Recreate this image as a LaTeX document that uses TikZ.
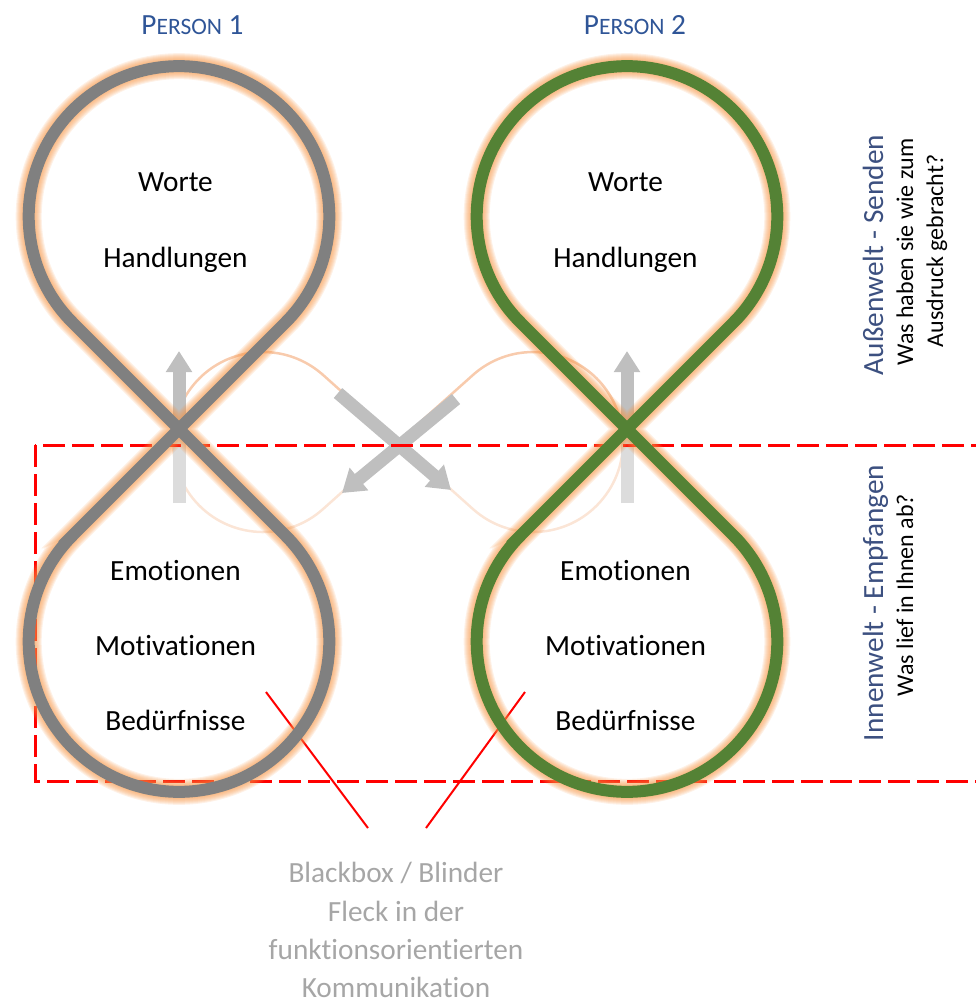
\documentclass[tikz,border=0pt]{standalone}
\usepackage{fontspec}
\setmainfont{Carlito}[Ligatures={NoCommon}]
\usetikzlibrary{arrows.meta}

\definecolor{eightgray}{RGB}{128,128,128}
\definecolor{eightgreen}{RGB}{84,130,53}
\definecolor{glowc}{RGB}{247,150,70}
\definecolor{arrowgray}{RGB}{191,191,191}
\definecolor{arrowlight}{RGB}{220,220,220}
\definecolor{loopdark}{RGB}{248,203,173}
\definecolor{looplight}{RGB}{251,229,214}
\definecolor{personblue}{RGB}{47,85,151}
\definecolor{headslate}{RGB}{60,80,128}
\definecolor{notegray}{RGB}{166,166,166}

\begin{document}
\begin{tikzpicture}[x=1pt,y=-1pt,
  % figure eight around a crossing at (0,0): two circles joined by 45 degree lines
  eightpath/.style={insert path={(-106.28,106.28) -- (106.28,-106.28)
      arc[start angle=45,end angle=-225,radius=150.3] -- (106.28,106.28)
      arc[start angle=-45,end angle=225,radius=150.3] -- cycle}},
  lbl/.style={font=\fontsize{29.3}{35}\selectfont, anchor=base, inner sep=0pt},
  person/.style={lbl, text=personblue},
  sidehead/.style={font=\fontsize{29.3}{35}\selectfont, anchor=base, inner sep=0pt, rotate=90, text=headslate},
  sidetext/.style={font=\fontsize{24}{29}\selectfont, anchor=base, inner sep=0pt, rotate=90},
  note/.style={lbl, text=notegray},
  flowup/.style={line width=13pt, draw=arrowgray, -{Triangle[width=25pt,length=21pt]}},
  flowcross/.style={line width=13pt, draw=arrowgray, -{Triangle[width=28pt,length=22pt]}},
  blind/.style={draw=red, line width=2pt},
  zone/.style={draw=red, line width=3pt, dash pattern=on 22pt off 7pt}
]
\useasboundingbox (0,0) rectangle (976,1003);

% sideways loop between both persons (upper half stronger, lower half paler)
\def\sideloop{(323,374.9) -- (473,509.1)
  arc[start angle=131.81,end angle=-131.81,radius=90] -- (323,509.1)
  arc[start angle=48.19,end angle=311.81,radius=90] -- cycle}
\begin{scope}
  \clip (0,0) rectangle (976,442);
  \draw[draw=loopdark, line width=2.5pt] \sideloop;
\end{scope}
\begin{scope}
  \clip (0,442) rectangle (976,1003);
  \draw[draw=looplight, line width=2.5pt] \sideloop;
\end{scope}

% vertical arrows at both crossings
\coordinate (v1s) at (179,503); \coordinate (v1m) at (179,437); \coordinate (v1t) at (179,351);
\coordinate (v2s) at (627,503); \coordinate (v2m) at (627,437); \coordinate (v2t) at (627,351);
\draw[line width=13pt, draw=arrowlight] (v1s) -- (v1m);
\draw[flowup] ([yshift=0.5pt]v1m) -- (v1t);
\draw[line width=13pt, draw=arrowlight] (v2s) -- (v2m);
\draw[flowup] ([yshift=0.5pt]v2m) -- (v2t);

% crossing arrows in the middle
\coordinate (xa1) at (338,393); \coordinate (xa2) at (451,490);
\coordinate (xb1) at (456,399); \coordinate (xb2) at (342,493);
\draw[flowcross] (xa1) -- (xa2);
\draw[flowcross] (xb1) -- (xb2);

% inner world zone
\coordinate (z1) at (35,445); \coordinate (z2) at (990,781);
\draw[zone] (z1) rectangle (z2);

% blind spot pointers
\coordinate (b1s) at (266,692); \coordinate (b1e) at (368,828);
\coordinate (b2s) at (525,692); \coordinate (b2e) at (426,828);
\draw[blind] (b1s) -- (b1e);
\draw[blind] (b2s) -- (b2e);

% the two figure eights with soft orange glow
\begin{scope}[shift={(179,429)}]
  \foreach \w in {26,24,22,20,18,16,14}
    \draw[line width=\w pt, draw=glowc, draw opacity=0.13, eightpath];
  \draw[line width=12pt, draw=eightgray, eightpath];
\end{scope}
\begin{scope}[shift={(627,429)}]
  \foreach \w in {26,24,22,20,18,16,14}
    \draw[line width=\w pt, draw=glowc, draw opacity=0.13, eightpath];
  \draw[line width=12pt, draw=eightgreen, eightpath];
\end{scope}

% headings
\node[person] (p1) at (192.5,35) {P{\fontsize{23.5}{28}\selectfont ERSON} 1};
\node[person] (p2) at (635,35) {P{\fontsize{23.5}{28}\selectfont ERSON} 2};

% person 1 labels
\node[lbl] (w1) at (175.5,192) {Worte};
\node[lbl] (h1) at (175.5,267) {Handlungen};
\node[lbl] (e1) at (175.5,580.5) {Emotionen};
\node[lbl] (m1) at (175.5,655.5) {Motivationen};
\node[lbl] (n1) at (175.5,730) {Bedürfnisse};

% person 2 labels
\node[lbl] (w2) at (625.5,192) {Worte};
\node[lbl] (h2) at (625.5,267) {Handlungen};
\node[lbl] (e2) at (625.5,580.5) {Emotionen};
\node[lbl] (m2) at (625.5,655.5) {Motivationen};
\node[lbl] (n2) at (625.5,730) {Bedürfnisse};

% side descriptions
\node[sidehead] (outer) at (883,255) {Außenwelt - Senden};
\node[sidetext] (outer1) at (913,252) {Was haben sie wie zum};
\node[sidetext] (outer2) at (943,251) {Ausdruck gebracht?};
\node[sidehead] (inner) at (883,603) {Innenwelt - Empfangen};
\node[sidetext] (inner1) at (913,595) {Was lief in Ihnen ab?};

% blind spot note
\node[note] (bb1) at (396,882) {Blackbox / Blinder};
\node[note] (bb2) at (396,921) {Fleck in der};
\node[note] (bb3) at (396,959) {funktionsorientierten};
\node[note] (bb4) at (396,997) {Kommunikation};
\end{tikzpicture}
\end{document}
